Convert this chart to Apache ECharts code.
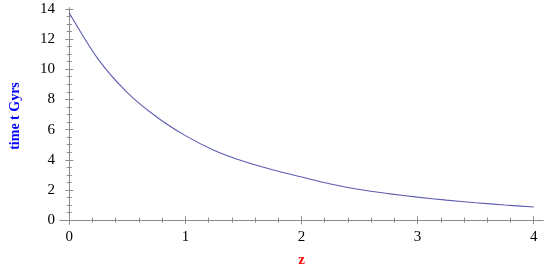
<!DOCTYPE html>
<html>
<head>
<meta charset="utf-8">
<script src="https://cdn.jsdelivr.net/npm/echarts@6/dist/echarts.min.js"></script>
<style>html,body{margin:0;padding:0;background:#fff;}#c{width:545px;height:273px;}</style>
</head>
<body>
<div id="c"></div>
<script>
// Data
var zValues = [0, 0.25, 0.5, 0.75, 1.0, 1.25, 1.5, 1.75, 2.0, 2.25, 2.5, 2.75, 3.0, 3.25, 3.5, 3.75, 4.0];
var tValues = [13.72, 10.65, 8.45, 6.85, 5.6, 4.62, 3.9, 3.34, 2.86, 2.4, 2.03, 1.76, 1.53, 1.33, 1.16, 1.01, 0.88];
var xMajorTicks = [0, 1, 2, 3, 4];
var xMinorTicks = [0.2,0.4,0.6,0.8,1.2,1.4,1.6,1.8,2.2,2.4,2.6,2.8,3.2,3.4,3.6,3.8];
var yMajorTicks = [0, 2, 4, 6, 8, 10, 12, 14];
var yMinorTicks = [0.5,1,1.5,2.5,3,3.5,4.5,5,5.5,6.5,7,7.5,8.5,9,9.5,10.5,11,11.5,12.5,13,13.5];
var xTitle = 'z';
var yTitle = 'time t Gyrs';

var X_MIN = -0.08, X_MAX = 4.08, Y_MIN = -0.25, Y_MAX = 14.05;
var frameColor = '#8c8c8c';
var serif = 'Liberation Serif';

function lbl(margin) {
  return {
    show: true, color: '#000', margin: margin,
    formatter: function (v) { return '{s|' + v + '}'; },
    rich: {s: {fontFamily: serif, fontSize: 15, color: '#000'}}
  };
}
function xAx(pos, ticks, len, labels, line, extra) {
  var a = {
    type: 'value', min: X_MIN, max: X_MAX, position: pos,
    axisLine: {show: line, lineStyle: {color: frameColor, width: 1}},
    axisTick: {show: true, inside: true, length: len, customValues: ticks, lineStyle: {color: frameColor}},
    axisLabel: labels ? Object.assign(lbl(6), {customValues: ticks}) : {show: false},
    splitLine: {show: false}
  };
  return Object.assign(a, extra || {});
}
function yAx(pos, ticks, len, labels, line, extra) {
  var a = {
    type: 'value', min: Y_MIN, max: Y_MAX, position: pos,
    axisLine: {show: line, lineStyle: {color: frameColor, width: 1}},
    axisTick: {show: true, inside: true, length: len, customValues: ticks, lineStyle: {color: frameColor}},
    axisLabel: labels ? Object.assign(lbl(5), {customValues: ticks}) : {show: false},
    splitLine: {show: false}
  };
  return Object.assign(a, extra || {});
}

var data = zValues.map(function (z, i) { return [z, tValues[i]]; });

var chart = echarts.init(document.getElementById('c'), null, {renderer: 'canvas'});
chart.setOption({
  animation: false,
  backgroundColor: '#fff',
  textStyle: {fontFamily: serif},
  grid: {left: 56, right: 2, top: 8, bottom: 42, containLabel: false},
  xAxis: [
    xAx('bottom', xMajorTicks, 4, true, true, {
      name: xTitle, nameLocation: 'middle', nameGap: 29,
      nameTextStyle: {color: '#ff0000', fontFamily: serif, fontWeight: 'bold', fontSize: 15}
    }),
    xAx('bottom', xMinorTicks, 2.5, false, false),
    xAx('top', xMajorTicks, 4, false, true),
    xAx('top', xMinorTicks, 2.5, false, false)
  ],
  yAxis: [
    yAx('left', yMajorTicks, 4, true, true, {
      name: yTitle, nameLocation: 'middle', nameGap: 38, nameRotate: 90,
      nameTextStyle: {color: '#0000ff', fontFamily: serif, fontWeight: 'bold', fontSize: 14, padding: [0, 0, 0, 0]}
    }),
    yAx('left', yMinorTicks, 2.5, false, false),
    yAx('right', yMajorTicks, 4, false, true),
    yAx('right', yMinorTicks, 2.5, false, false)
  ],
  series: [{
    type: 'line', xAxisIndex: 0, yAxisIndex: 0,
    data: data, showSymbol: false, symbol: 'none',
    smooth: 0.3,
    lineStyle: {color: '#5c5cb0', width: 1.1}
  }]
});
</script>
</body>
</html>
